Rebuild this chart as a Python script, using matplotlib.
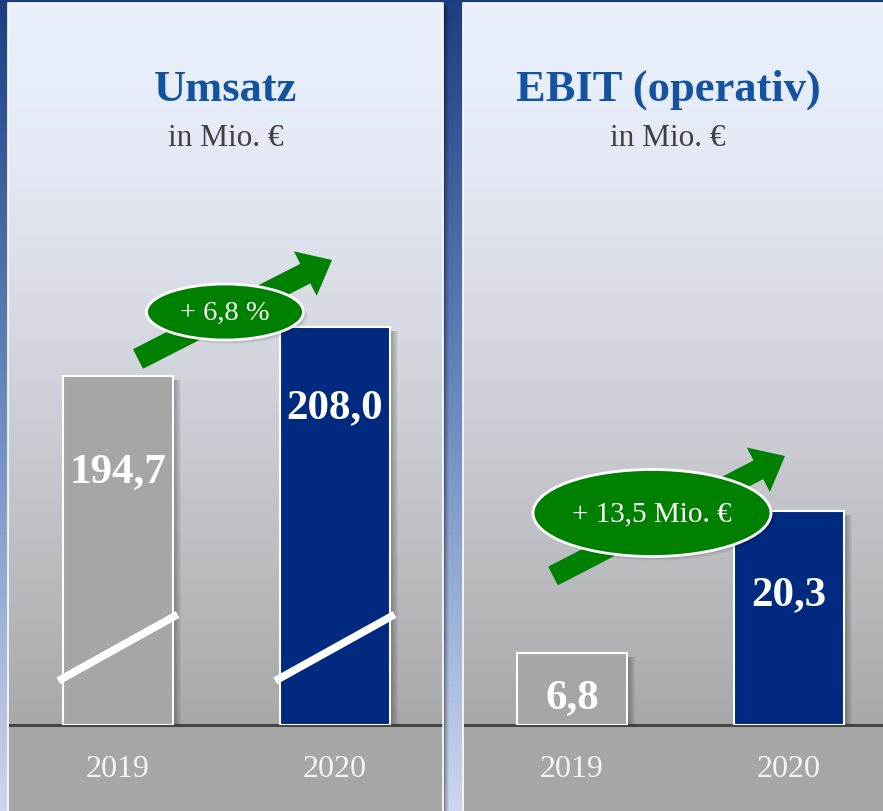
import numpy as np
import matplotlib
matplotlib.use("Agg")
import matplotlib.pyplot as plt
from matplotlib.patches import Rectangle, Ellipse, FancyArrow
from matplotlib.colors import LinearSegmentedColormap
import matplotlib.transforms as mtransforms

# ---------------- data ----------------
years = ["2019", "2020"]
umsatz = [194.7, 208.0]
umsatz_labels = ["194,7", "208,0"]
ebit = [6.8, 20.3]
ebit_labels = ["6,8", "20,3"]
titles = ["Umsatz", "EBIT (operativ)"]
subtitle = "in Mio. €"
change_labels = ["+ 6,8 %", "+ 13,5 Mio. €"]

FONT = "Liberation Serif"
W, H = 883, 812
fig = plt.figure(figsize=(W / 100, H / 100), dpi=100)

# background axes in pixel coordinates (y downwards)
bg = fig.add_axes([0, 0, 1, 1])
bg.axis("off")

# outer blue gradient
blue = LinearSegmentedColormap.from_list(
    "blue", [(0, (0.12, 0.24, 0.51)), (0.5, (0.42, 0.54, 0.75)), (1, (0.80, 0.84, 0.93))])
grad = np.linspace(0, 1, 256).reshape(-1, 1)
bg.imshow(grad, cmap=blue, extent=[0, W, H, 0], aspect="auto", zorder=0)

# panels
panel_cmap = LinearSegmentedColormap.from_list(
    "panel", [(0, (0.918, 0.945, 0.992)), (0.22, (0.895, 0.915, 0.962)),
              (0.45, (0.840, 0.852, 0.885)), (0.70, (0.760, 0.766, 0.786)),
              (1, (0.660, 0.660, 0.665))])
BASE = 726
TOP = 4
panels = [(8, 443), (463, 900)]
for (x0, x1) in panels:
    # shadow on the right
    for i, a in enumerate([0.25, 0.18, 0.12, 0.07, 0.04]):
        bg.add_patch(Rectangle((x1 + i, TOP + 2), 1.5, H, color="black", alpha=a, lw=0, zorder=1))
    bg.imshow(np.linspace(0, 1, 256).reshape(-1, 1), cmap=panel_cmap,
              extent=[x0, x1, BASE, TOP], aspect="auto", zorder=2)
    bg.add_patch(Rectangle((x0, BASE), x1 - x0, H - BASE, color="#a6a6a6", lw=0, zorder=2))
    bg.plot([x0, x1], [BASE, BASE], color="#454545", lw=2.2, zorder=3, solid_capstyle="butt")
    # white border
    bg.plot([x0, x0, x1, x1], [H, TOP, TOP, H], color="white", lw=1.2, zorder=3)
bg.set_xlim(0, W)
bg.set_ylim(H, 0)

# titles
for cx, t in zip([226, 668], titles):
    bg.text(cx, 90, t, ha="center", va="center", color="#1453a0", fontsize=32,
            fontweight="bold", family=FONT, zorder=5)
    bg.text(cx, 139, subtitle, ha="center", va="center", color="#404040",
            fontsize=22.5, family=FONT, zorder=5)

# ---------------- data axes ----------------
px_per_cat = 217.0
bar_w = 110 / px_per_cat


def make_axes(x0, x1, center0, base_value, px_per_unit):
    ax = fig.add_axes([x0 / W, (H - BASE) / H, (x1 - x0) / W, (BASE - TOP) / H])
    ax.set_xlim(-(center0 - x0) / px_per_cat, -(center0 - x0) / px_per_cat + (x1 - x0) / px_per_cat)
    ax.set_ylim(base_value, base_value + (BASE - TOP) / px_per_unit)
    ax.axis("off")
    ax.patch.set_alpha(0)
    return ax


ax1 = make_axes(8, 443, 118, 100.0, 3.684)
ax2 = make_axes(463, 883, 572, 0.0, 10.55)

colors = ["#a6a6a6", "#002a7f"]
x = np.arange(len(years))


def draw_bars(ax, vals, base, px_per_unit):
    vals = np.asarray(vals)
    # soft shadows (offset right and slightly down)
    for k in range(1, 9):
        ax.bar(x + k / px_per_cat, vals - base - 4.0 / px_per_unit, bottom=base,
               width=bar_w, color="black", alpha=0.045, lw=0, zorder=1)
    ax.bar(x, vals - base, bottom=base, width=bar_w, color=colors,
           edgecolor="white", linewidth=1.5, zorder=2)


draw_bars(ax1, umsatz, 100.0, 3.684)
draw_bars(ax2, ebit, 0.0, 10.55)

# broken-axis marks on Umsatz bars
for xi in x:
    ax1.plot([xi - 0.275, xi + 0.275], [112, 130], color="white", lw=5.5,
             solid_capstyle="butt", zorder=3)

# value labels
lab_kw = dict(ha="center", va="center", color="white", fontsize=31,
              fontweight="bold", family=FONT, zorder=4)
umsatz_label_y = [168.9, 186.3]
ebit_label_y = [2.6, 12.4]
for xi, t, yy in zip(x, umsatz_labels, umsatz_label_y):
    ax1.text(xi, yy, t, **lab_kw)
for xi, t, yy in zip(x, ebit_labels, ebit_label_y):
    ax2.text(xi, yy, t, **lab_kw)

# year labels
for ax in (ax1, ax2):
    tr = mtransforms.blended_transform_factory(ax.transData, ax.transAxes)
    for xi, yr in zip(x, years):
        ax.text(xi, -44 / (BASE - TOP), yr, transform=tr, ha="center", va="center",
                color="#f4f4f4", fontsize=23, family=FONT, clip_on=False)

# ---------------- overlay: growth arrows and ellipses ----------------
ov = fig.add_axes([0, 0, 1, 1])
ov.axis("off")
ov.patch.set_alpha(0)

arrows = [((138, 360), (332, 261), 22), ((553, 577), (785, 457), 21)]
for (t0, t1, wd) in arrows:
    dxp, dyp = t1[0] - t0[0], t1[1] - t0[1]
    ov.add_patch(FancyArrow(t0[0], t0[1], dxp, dyp, width=wd, head_width=50,
                            head_length=30, length_includes_head=True,
                            color="#008000", lw=0, zorder=6))

ellipses = [((225, 313), 157, 56), ((652, 514), 238, 87)]
for ((cx, cy), ew, eh), lab, fs in zip(ellipses, change_labels, [20.5, 21]):
    for k in range(1, 5):
        ov.add_patch(Ellipse((cx + k, cy + k), ew, eh, color="black", alpha=0.05, lw=0, zorder=6))
    ov.add_patch(Ellipse((cx, cy), ew, eh, facecolor="#008000", edgecolor="white",
                         lw=2, zorder=7))
    ov.text(cx, cy, lab, ha="center", va="center", color="white", fontsize=fs,
            family=FONT, zorder=8)
ov.set_xlim(0, W)
ov.set_ylim(H, 0)

fig.savefig("out.png", dpi=100)
